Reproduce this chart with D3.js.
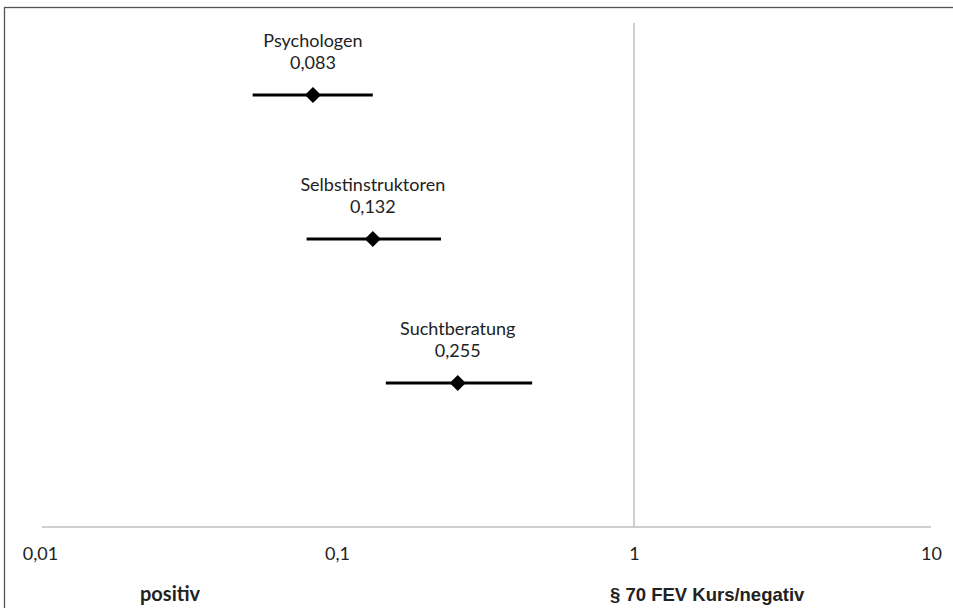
<!DOCTYPE html>
<html>
<head>
<meta charset="utf-8">
<script src="https://cdn.jsdelivr.net/npm/d3@7"></script>
<style>
  html, body { margin: 0; padding: 0; background: #fff; }
  svg { display: block; }
</style>
</head>
<body>
<svg id="chart" width="953" height="608"></svg>
<script>
// ---- data ----
const categories = ["Psychologen", "Selbstinstruktoren", "Suchtberatung"];
const estimates  = [0.083, 0.132, 0.255];
const lowerCI    = [0.052, 0.079, 0.146];
const upperCI    = [0.132, 0.224, 0.454];
const rowIndex   = [3, 2, 1];
const valueLabels = ["0,083", "0,132", "0,255"];
const tickValues = [0.01, 0.1, 1, 10];
const tickLabels = ["0,01", "0,1", "1", "10"];
const refValue = 1;
const leftNote = "positiv";
const rightNote = "§ 70 FEV Kurs/negativ";

const rows = categories.map((c, i) => ({
  name: c, est: estimates[i], lo: lowerCI[i], hi: upperCI[i], row: rowIndex[i], label: valueLabels[i]
}));

const FONT = "Lato, 'Open Sans', sans-serif";
const svg = d3.select("#chart");
const x = d3.scaleLog().domain([0.01, 10]).range([40, 931]);
const y = d3.scaleLinear().domain([0, 3.5]).range([527, 23]);

// outer frame (extends past right/bottom)
svg.append("rect")
  .attr("x", 4.5).attr("y", 7.5).attr("width", 960).attr("height", 620)
  .attr("fill", "none").attr("stroke", "#555").attr("stroke-width", 1.3);

// x axis line
svg.append("line")
  .attr("x1", x(0.01) + 2).attr("x2", x(10)).attr("y1", y(0)).attr("y2", y(0))
  .attr("stroke", "#bfbfbf").attr("stroke-width", 1.5);

// reference line at 1
svg.append("line")
  .attr("x1", x(refValue)).attr("x2", x(refValue)).attr("y1", y(3.5)).attr("y2", y(0))
  .attr("stroke", "#bfbfbf").attr("stroke-width", 1.5);

// tick labels
const axis = d3.axisBottom(x).tickValues(tickValues)
  .tickFormat((d, i) => tickLabels[i]).tickSize(0).tickPadding(0);
const ag = svg.append("g").attr("transform", `translate(0, ${y(0)})`).call(axis);
ag.select(".domain").remove();
ag.selectAll("text")
  .attr("y", 33).attr("dy", null)
  .style("font-family", FONT)
  .style("font-size", "18px")
  .attr("fill", "#222");

// CI lines
svg.selectAll("line.ci").data(rows).join("line").attr("class", "ci")
  .attr("x1", d => x(d.lo)).attr("x2", d => x(d.hi))
  .attr("y1", d => y(d.row)).attr("y2", d => y(d.row))
  .attr("stroke", "#000").attr("stroke-width", 3);

// diamonds
svg.selectAll("path.pt").data(rows).join("path").attr("class", "pt")
  .attr("d", d3.symbol(d3.symbolDiamond2, 165)())
  .attr("transform", d => `translate(${x(d.est)}, ${y(d.row)})`)
  .attr("fill", "#000");

// labels
svg.selectAll("text.nm").data(rows).join("text").attr("class", "nm")
  .attr("x", d => x(d.est)).attr("y", d => y(d.row) - 48)
  .attr("text-anchor", "middle")
  .style("font-family", FONT).style("font-size", "18px")
  .attr("fill", "#222").text(d => d.name);
svg.selectAll("text.vl").data(rows).join("text").attr("class", "vl")
  .attr("x", d => x(d.est)).attr("y", d => y(d.row) - 26)
  .attr("text-anchor", "middle")
  .style("font-family", FONT).style("font-size", "18px")
  .attr("fill", "#222").text(d => d.label);

// bottom notes
svg.append("text").attr("x", 140).attr("y", 601)
  .style("font-family", FONT).style("font-size", "20px")
  .style("font-weight", "bold").attr("fill", "#222").text(leftNote);
svg.append("text").attr("x", 610).attr("y", 601)
  .style("font-family", "'Liberation Sans', Arial, sans-serif").style("font-size", "18.5px")
  .style("font-weight", "bold").attr("fill", "#222").text(rightNote);
</script>
</body>
</html>
